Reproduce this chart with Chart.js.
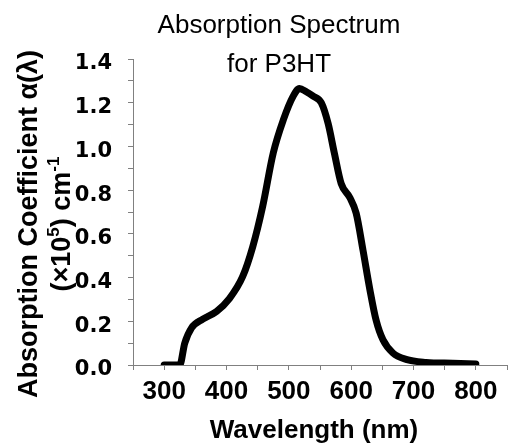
<!DOCTYPE html>
<html lang="en">
<head>
    <meta charset="UTF-8">
    <script src="https://cdn.jsdelivr.net/npm/chart.js"></script>
    <style>
        body { margin: 0; background: #fff; }
        canvas { display: block; }
    </style>
</head>
<body>
    <canvas id="spectrum" width="513" height="446"></canvas>
    <script>
        // values
        const wavelengths = [300, 325, 333, 344, 362, 384, 405, 426, 442, 458, 475, 491, 507, 517, 528, 539, 552, 563, 573, 584, 598, 608, 619, 630, 640, 651, 667, 688, 720, 763, 800];
        const absorption = [0, 0, 0.10, 0.17, 0.21, 0.245, 0.305, 0.405, 0.54, 0.725, 0.97, 1.12, 1.23, 1.265, 1.25, 1.23, 1.20, 1.105, 0.97, 0.83, 0.765, 0.695, 0.525, 0.345, 0.205, 0.115, 0.055, 0.026, 0.012, 0.008, 0.005];
        const xLabels = [300, 400, 500, 600, 700, 800];
        const yLabels = [0, 0.2, 0.4, 0.6, 0.8, 1.0, 1.2, 1.4];

        const titleLines = ['Absorption Spectrum', 'for P3HT'];
        const xTitle = 'Wavelength (nm)';

        const axisGray = '#808080';

        // titles drawn by hand so they sit where the original put them
        const titles = {
            id: 'titles',
            afterDraw(chart) {
                const ctx = chart.ctx;
                ctx.save();
                ctx.fillStyle = '#000';
                ctx.textAlign = 'center';
                ctx.textBaseline = 'alphabetic';
                ctx.font = '26px "Liberation Sans", Arial';
                ctx.fillText(titleLines[0], 279, 33);
                ctx.fillText(titleLines[1], 279, 72);

                ctx.font = 'bold 26px "Liberation Sans", Arial';
                ctx.fillText(xTitle, 314, 438);

                // y title, two rotated lines
                ctx.translate(0, 224);
                ctx.rotate(-Math.PI / 2);
                ctx.font = 'bold 27px "Liberation Sans", Arial';
                ctx.fillText('Absorption Coefficient \u03b1(\u03bb)', 0, 37);

                const big = 'bold 27px "Liberation Sans", Arial';
                const small = 'bold 17px "Liberation Sans", Arial';
                const parts = [['(\u00d710', big, 0], ['5', small, -11], [') cm', big, 0], ['-1', small, -11]];
                let total = 0;
                parts.forEach(p => { ctx.font = p[1]; total += ctx.measureText(p[0]).width; });
                let x = -total / 2;
                ctx.textAlign = 'left';
                parts.forEach(p => {
                    ctx.font = p[1];
                    ctx.fillText(p[0], x, 70 + p[2]);
                    x += ctx.measureText(p[0]).width;
                });
                ctx.restore();
            }
        };

        new Chart(document.getElementById('spectrum'), {
            type: 'line',
            data: {
                datasets: [{
                    data: wavelengths.map((w, i) => ({ x: w, y: absorption[i] })),
                    borderColor: '#000',
                    borderWidth: 7,
                    pointRadius: 0,
                    cubicInterpolationMode: 'monotone',
                    borderCapStyle: 'round',
                    borderJoinStyle: 'round',
                    fill: false
                }]
            },
            options: {
                responsive: false,
                animation: false,
                layout: { padding: { top: 59, right: 6, left: 0, bottom: 0 } },
                plugins: {
                    legend: { display: false },
                    tooltip: { enabled: false },
                    title: { display: false }
                },
                scales: {
                    x: {
                        type: 'linear',
                        min: 250,
                        max: 850,
                        afterFit: s => { s.height = 81; },
                        ticks: {
                            stepSize: 50,
                            autoSkip: false,
                            maxRotation: 0,
                            color: '#000',
                            padding: 6,
                            font: { family: '"Liberation Sans", Arial', size: 26, weight: 'bold' },
                            callback: v => xLabels.includes(v) ? String(v) : ''
                        },
                        grid: { drawOnChartArea: false, tickLength: 5, color: axisGray },
                        border: { color: axisGray }
                    },
                    y: {
                        min: 0,
                        max: 1.4,
                        afterFit: s => { s.width = 133; },
                        ticks: {
                            stepSize: 0.1,
                            autoSkip: false,
                            color: '#000',
                            padding: 16,
                            labelOffset: 5,
                            font: { family: '"DejaVu Sans"', size: 21, weight: 'bold' },
                            callback: v => yLabels.some(l => Math.abs(l - v) < 1e-6) ? v.toFixed(1) : ''
                        },
                        grid: { drawOnChartArea: false, tickLength: 5, color: axisGray },
                        border: { color: axisGray }
                    }
                }
            },
            plugins: [titles]
        });
    </script>
</body>
</html>
